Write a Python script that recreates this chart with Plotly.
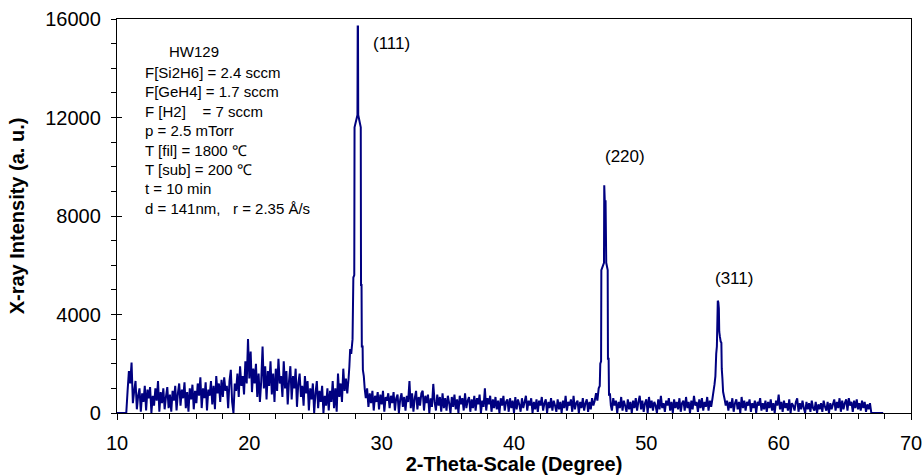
import numpy as np
import plotly.graph_objects as go

# 2-theta scan step used for the baseline segments (degrees)
SCAN_STEP = 0.1

# Baseline intensity, 10.0 .. 27.4 deg
scan_start_a = 10.0
scan_counts_a = [
    0, 0, 0, 0, 0, 0, 0, 0, 900, 1700,
    1200, 2050, 400, 900, 1300, 150, 700, 1000, 50, 800,
    450, 1100, 100, 950, 600, 1050, 0, 700, 300, 1000,
    500, 1300, 50, 850, 400, 1000, 150, 650, 1050, 200,
    750, 50, 900, 500, 1100, 100, 800, 1200, 300, 950,
    600, 1250, 200, 850, 50, 1000, 550, 1150, 150, 900,
    400, 1200, 700, 1450, 200, 1000, 600, 1250, 100, 950,
    700, 1300, 350, 1100, 150, 1500, 800, 1200, 450, 1350,
    650, 1450, 900, 1100, 200, 1300, 1750, 450, 0, 1200,
    900, 1600, 650, 1900, 1100, 1500, 750, 2100, 1200, 3000,
    1400, 2500, 850, 1800, 1200, 2000, 650, 1600, 450, 1300,
    2700, 1000, 1900, 550, 1700, 1100, 2100, 750, 1600, 450,
    1800, 900, 2200, 1200, 1500, 650, 2100, 1000, 1700, 350,
    1300, 1900, 550, 1500, 1000, 1800, 250, 1200, 1600, 650,
    1100, 300, 1500, 800, 1300, 100, 1000, 550, 1200, 0,
    800, 1300, 200, 900, 450, 1100, 0, 700, 300, 1000,
    100, 900, 450, 1300, 200, 1000, 50, 1600, 650, 1200,
    450, 1800, 900, 1400, 800,
]

# (111) reflection
peak_111_angle = [27.50, 27.56, 27.62, 27.70, 27.80, 27.86, 27.93, 27.95, 28.17, 28.19,
                  28.21, 28.23, 28.42, 28.44, 28.48, 28.50, 28.56, 28.58, 28.65, 28.72]
peak_111_counts = [1400, 1900, 2600, 2400, 3000, 5500, 5600, 11600, 12100, 15700,
                   15700, 12100, 11600, 5200, 5200, 2700, 2700, 1750, 1500, 980]

# Baseline intensity, 28.8 .. 46.1 deg
scan_start_b = 28.8
scan_counts_b = [
    600, 1000, 250, 800, 400, 900, 100, 700, 450, 850,
    150, 750, 350, 900, 50, 650, 500, 800, 200, 700,
    400, 850, 100, 600, 750, 0, 550, 800, 250, 650,
    100, 700, 450, 1300, 200, 800, 50, 600, 900, 150,
    650, 300, 800, 900, 100, 700, 400, 750, 0, 600,
    250, 1180, 450, 100, 750, 300, 650, 50, 800, 200,
    600, 100, 700, 400, 0, 650, 250, 750, 150, 550,
    0, 700, 350, 600, 100, 800, 200, 500, 650, 50,
    550, 200, 700, 100, 600, 350, 750, 0, 500, 250,
    1000, 100, 600, 350, 700, 50, 550, 200, 650, 150,
    500, 0, 600, 300, 700, 100, 450, 550, 50, 600,
    200, 500, 0, 650, 150, 550, 350, 50, 600, 200,
    450, 700, 100, 500, 300, 600, 0, 450, 150, 550,
    50, 500, 300, 650, 100, 400, 550, 0, 450, 200,
    600, 100, 500, 300, 50, 550, 150, 450, 0, 500,
    200, 700, 100, 450, 300, 550, 50, 700, 150, 400,
    500, 0, 450, 200, 600, 100, 400, 550, 50, 450,
    150, 600, 300, 500,
]

# (220) reflection
peak_220_angle = [46.20, 46.30, 46.40, 46.48, 46.52, 46.58, 46.60, 46.80, 46.82, 46.86,
                  46.92, 46.97, 47.08, 47.10, 47.15, 47.18, 47.25, 47.32]
peak_220_counts = [800, 500, 1000, 1100, 2000, 2100, 5800, 6100, 9250, 8600,
                   8600, 6100, 5800, 2200, 2200, 700, 800, 300]

# Baseline intensity, 47.4 .. 54.9 deg
scan_start_c = 47.4
scan_counts_c = [
    100, 600, 300, 500, 0, 450, 200, 650, 100, 500,
    300, 50, 550, 150, 450, 0, 500, 200, 600, 100,
    450, 700, 150, 500, 50, 400, 550, 0, 650, 200,
    500, 100, 450, 300, 0, 550, 150, 700, 200, 400,
    50, 500, 300, 600, 100, 450, 0, 550, 200, 450,
    150, 600, 50, 400, 500, 100, 650, 200, 450, 0,
    500, 150, 700, 300, 450, 50, 550, 200, 600, 100,
    450, 250, 650, 100, 500, 250,
]

# (311) reflection
peak_311_angle = [55.00, 55.08, 55.15, 55.22, 55.28, 55.33, 55.40, 55.44, 55.48, 55.51,
                  55.56, 55.62, 55.67, 55.70, 55.75, 55.80, 55.86, 55.92, 56.00]
peak_311_counts = [600, 900, 1150, 1500, 2400, 2700, 4560, 4500, 4250, 3300,
                   3100, 2900, 2850, 1800, 1400, 860, 700, 550, 300]

# Baseline intensity, 56.1 .. 67.9 deg
scan_start_d = 56.1
scan_counts_d = [
    500, 100, 450, 200, 600, 50, 400, 550, 150, 450,
    0, 650, 200, 500, 100, 450, 300, 550, 50, 400,
    200, 500, 0, 450, 300, 600, 100, 400, 150, 500,
    50, 450, 200, 550, 100, 400, 0, 500, 300, 750,
    150, 450, 50, 500, 200, 400, 100, 550, 0, 400,
    300, 100, 450, 600, 50, 400, 150, 500, 200, 0,
    450, 150, 400, 50, 500, 200, 100, 450, 0, 350,
    150, 400, 50, 500, 250, 100, 450, 0, 400, 150,
    350, 550, 100, 450, 200, 600, 50, 500, 150, 400,
    550, 100, 600, 300, 450, 50, 500, 200, 550, 150,
    400, 100, 500, 200, 450, 50, 350, 150, 400, 0,
    0, 0, 0, 0, 0, 0, 0, 0, 0,
]

# Sample / deposition notes
sample_name = "HW129"
process_notes = [
    "F[Si2H6] = 2.4 sccm",
    "F[GeH4] = 1.7 sccm",
    "F [H2]\u00a0\u00a0\u00a0\u00a0= 7 sccm",
    "p = 2.5 mTorr",
    "T [fil] = 1800 \u2103",
    "T [sub] = 200 \u2103",
    "t = 10 min",
    "d = 141nm,\u00a0\u00a0\u00a0r = 2.35 \u00c5/s",
]

# Miller-index labels: (text, left edge angle, intensity level)
peak_labels = [("(111)", 29.2, 15020), ("(220)", 46.75, 10400), ("(311)", 55.03, 5480)]


def grid(start, counts):
    return list(np.round(start + SCAN_STEP * np.arange(len(counts)), 3))


two_theta = (grid(scan_start_a, scan_counts_a) + peak_111_angle
             + grid(scan_start_b, scan_counts_b) + peak_220_angle
             + grid(scan_start_c, scan_counts_c) + peak_311_angle
             + grid(scan_start_d, scan_counts_d))
intensity = (scan_counts_a + peak_111_counts + scan_counts_b + peak_220_counts
             + scan_counts_c + peak_311_counts + scan_counts_d)

FONT = "Liberation Sans, Arial, sans-serif"
W, H = 924, 475
L, R, T, B = 117, 13, 19, 62
PW, PH = W - L - R, H - T - B

fig = go.Figure()
fig.add_trace(go.Scatter(
    x=two_theta, y=intensity, mode="lines",
    line=dict(color="#000080", width=2.0, simplify=False),
    showlegend=False, hoverinfo="skip",
))
# invisible trace so the inner tick axis is drawn
fig.add_trace(go.Scatter(x=[10], y=[0], yaxis="y2", mode="markers",
                         marker=dict(opacity=0), showlegend=False, hoverinfo="skip"))

axis_common = dict(
    showline=True, linecolor="#000000", linewidth=1.3, mirror=True,
    showgrid=False, zeroline=False, tickcolor="#000000", tickwidth=1.3,
    tickfont=dict(family=FONT, size=20, color="#000000"),
)

fig.update_layout(
    width=W, height=H,
    margin=dict(l=L, r=R, t=T, b=B, autoexpand=False),
    paper_bgcolor="white", plot_bgcolor="white",
    xaxis=dict(
        range=[10, 70], dtick=10, tick0=10, ticks="outside", ticklen=6,
        minor=dict(dtick=2, tick0=10, ticks="outside", ticklen=5, tickcolor="#000000", tickwidth=1),
        ticklabelstandoff=6,
        title=dict(text="<b>2-Theta-Scale (Degree)</b>", standoff=0,
                   font=dict(family=FONT, size=20, color="#000000")),
        **axis_common,
    ),
    yaxis=dict(
        range=[0, 16000], dtick=4000, tick0=0, ticks="outside", ticklen=5,
        tickformat="d",
        minor=dict(dtick=1000, tick0=0, ticks="outside", ticklen=5, tickcolor="#000000", tickwidth=1),
        ticklabelstandoff=6,
        title=dict(text="<b>X-ray Intensity (a. u.)</b>", standoff=15,
                   font=dict(family=FONT, size=20, color="#000000")),
        **axis_common,
    ),
    yaxis2=dict(
        range=[0, 16000], overlaying="y", side="left", anchor="x",
        tickvals=[4000, 8000, 12000], ticks="inside", ticklen=5,
        tickcolor="#000000", tickwidth=1.3, showticklabels=False,
        showgrid=False, zeroline=False, showline=False,
    ),
)

# deposition notes block
note_x = (143 - L) / PW
fig.add_annotation(text=sample_name, xref="paper", yref="paper",
                   x=(167 - L) / PW, y=(H - B - 52) / PH,
                   xanchor="left", yanchor="middle", showarrow=False,
                   font=dict(family=FONT, size=15, color="#000000"))
for i, line in enumerate(process_notes):
    fig.add_annotation(text=line, xref="paper", yref="paper",
                       x=note_x, y=(H - B - (72 + 19.5 * i)) / PH,
                       xanchor="left", yanchor="middle", showarrow=False,
                       font=dict(family=FONT, size=15, color="#000000"))

for text, ang, level in peak_labels:
    fig.add_annotation(text=text, x=ang, y=level, xref="x", yref="y",
                       xanchor="left", yanchor="middle", showarrow=False,
                       font=dict(family=FONT, size=17, color="#000000"))

fig.write_html("out.html")
